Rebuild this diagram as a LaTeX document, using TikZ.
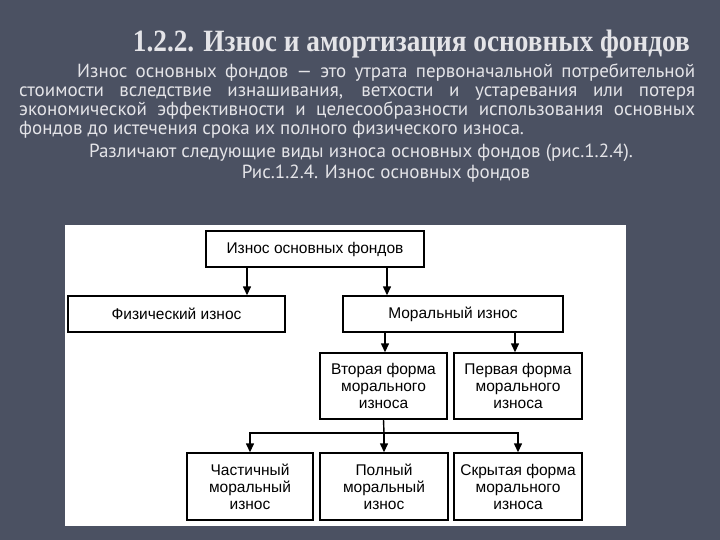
\documentclass[tikz,border=0pt]{standalone}
\usepackage{fontspec}
\setmainfont{Liberation Serif}
\newfontfamily\dsans{Liberation Sans}
\newfontfamily\psans{PT Sans}
\usetikzlibrary{arrows.meta}
\definecolor{bg}{HTML}{4B5162}
\definecolor{tx}{HTML}{E4E4E8}
\tikzset{box/.style={draw=black,line width=1.4pt,fill=white,inner sep=0pt,align=center,font=\dsans\fontsize{15.5}{17}\selectfont},
 arr/.style={line width=1.4pt,-{Triangle[length=9pt,width=8pt]}},
 para/.style={text=tx,font=\psans\fontsize{19}{18.7}\selectfont,inner sep=0pt}}
\begin{document}
\begin{tikzpicture}[x=1pt,y=-1pt]
\fill[bg] (0,0) rectangle (720,540);
\useasboundingbox (0,0) rectangle (720,540);
\fill[white] (65,225) rectangle (626,526);
\node[text=tx,font=\bfseries\fontsize{31}{34}\selectfont,anchor=base east,inner sep=0pt] (title) at (690,52) {\scalebox{0.88}[1]{1.2.2. Износ и амортизация основных фондов}};
\node[para,anchor=north west,text width=676pt,align=justify] (p1) at (19,64) {\hspace*{58pt}Износ основных фондов — это утрата первоначальной потребительной\linebreak стоимости вследствие изнашивания, ветхости и устаревания или потеря\linebreak экономической эффективности и целесообразности использования основных\linebreak фондов до истечения срока их полного физического износа.};
\node[para,anchor=center] (p2) at (361,153) {Различают следующие виды износа основных фондов (рис.1.2.4).};
\node[para,anchor=center] (cap) at (386,174) {Рис.1.2.4. Износ основных фондов};
\node[box,minimum width=218pt,minimum height=36pt] (top) at (315,249) {Износ основных фондов};
\node[box,minimum width=217pt,minimum height=36pt] (phys) at (176.5,314) {Физический износ};
\node[box,minimum width=220pt,minimum height=36pt] (mor) at (453,314) {Моральный износ};
\node[box,minimum width=127pt,minimum height=66pt] (sec) at (383.5,386) {Вторая форма\\морального\\износа};
\node[box,minimum width=128pt,minimum height=66pt] (fir) at (518,386) {Первая форма\\морального\\износа};
\node[box,minimum width=126pt,minimum height=67pt] (part) at (250,486.5) {Частичный\\моральный\\износ};
\node[box,minimum width=128pt,minimum height=67pt] (full) at (384,486.5) {Полный\\моральный\\износ};
\node[box,minimum width=128pt,minimum height=67pt] (hid) at (518,486.5) {Скрытая форма\\морального\\износа};
\draw[arr] (top.south -| 247,0) -- (phys.north -| 247,0);
\draw[arr] (top.south -| 387,0) -- (mor.north -| 387,0);
\draw[arr] (mor.south -| 385,0) -- (sec.north -| 385,0);
\draw[arr] (mor.south -| 515,0) -- (fir.north -| 515,0);
\coordinate (bus) at (384,433);
\draw[line width=1.4pt] (sec.south) -- (bus);
\draw[arr] (bus) -- (full.north);
\draw[arr] (bus) -| (part.north);
\draw[arr] (bus) -| (hid.north);
\end{tikzpicture}
\end{document}
